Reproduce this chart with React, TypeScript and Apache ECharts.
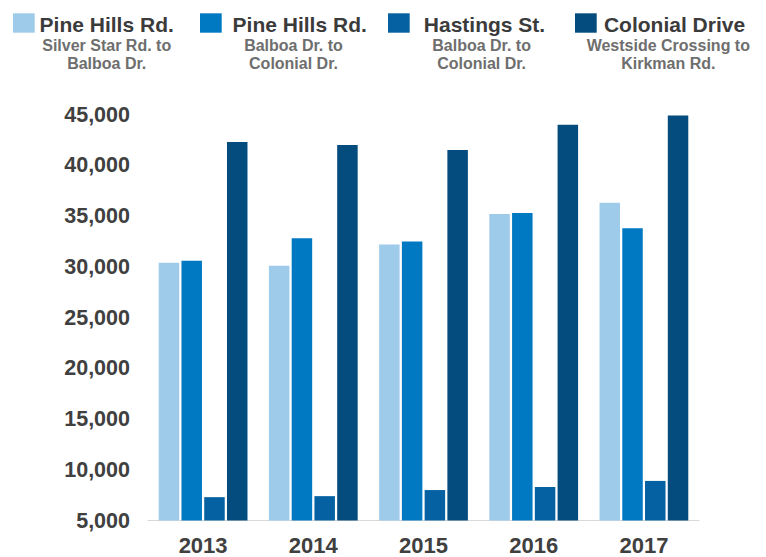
import React, { useEffect, useRef } from "react";
import * as echarts from "echarts";

const years = ["2013", "2014", "2015", "2016", "2017"];
const seriesTitles = ["Pine Hills Rd.", "Pine Hills Rd.", "Hastings St.", "Colonial Drive"];
const seriesSubtitles = [
  ["Silver Star Rd. to", "Balboa Dr."],
  ["Balboa Dr. to", "Colonial Dr."],
  ["Balboa Dr. to", "Colonial Dr."],
  ["Westside Crossing to", "Kirkman Rd."],
];
const pineHillsSilverStar = [30400, 30100, 32200, 35200, 36300];
const pineHillsBalboa = [30600, 32800, 32500, 35300, 33800];
const hastings = [7300, 7400, 8000, 8300, 8900];
const colonialDrive = [42300, 42000, 41500, 44000, 44900];
const yMin = 5000;
const yMax = 45000;
const yStep = 5000;

const colors = ["#9FCBEB", "#0079C2", "#0561A1", "#044B7E"];

// legend layout (pixels)
const legendIconX = [13, 200, 388, 575];
const legendTitleCX = [106.7, 299.7, 484.5, 674.5];
const legendSubCX = [106.7, 293.5, 481.6, 668.3];

export default function App() {
  const ref = useRef<HTMLDivElement>(null);
  useEffect(() => {
    document.body.style.margin = "0";
    if (!ref.current) return;
    const chart = echarts.init(ref.current, null, { renderer: "svg" });
    const font = "'Liberation Sans', Arial, sans-serif";
    const values = [pineHillsSilverStar, pineHillsBalboa, hastings, colonialDrive];

    const graphics: any[] = [];
    seriesTitles.forEach((t, i) => {
      graphics.push({
        type: "rect",
        shape: { x: legendIconX[i], y: 13.3, width: 21.7, height: 19.4 },
        style: { fill: colors[i] },
      });
      graphics.push({
        type: "text",
        x: legendTitleCX[i],
        y: 24.2,
        style: {
          text: t,
          fill: "#3b3b3b",
          font: `bold 21px ${font}`,
          align: "center",
          verticalAlign: "middle",
        },
      });
      seriesSubtitles[i].forEach((s, j) => {
        graphics.push({
          type: "text",
          x: legendSubCX[i],
          y: 45 + j * 18.6,
          style: {
            text: s,
            fill: "#6e6e6e",
            font: `bold 16px ${font}`,
            align: "center",
            verticalAlign: "middle",
          },
        });
      });
    });

    chart.setOption({
      animation: false,
      backgroundColor: "#ffffff",
      grid: { left: 148, right: 67, top: 114.5, bottom: 36.5, containLabel: false },
      xAxis: {
        type: "category",
        data: years,
        axisLine: { show: true, lineStyle: { color: "#d9d9d9", width: 1 } },
        axisTick: { show: false },
        axisLabel: {
          color: "#404040",
          fontFamily: font,
          fontWeight: "bold",
          fontSize: 22,
          margin: 14,
        },
      },
      yAxis: {
        type: "value",
        min: yMin,
        max: yMax,
        interval: yStep,
        splitLine: { show: false },
        axisLine: { show: false },
        axisTick: { show: false },
        axisLabel: {
          color: "#404040",
          fontFamily: font,
          fontWeight: "bold",
          fontSize: 21.5,
          margin: 18,
          formatter: (v: number) => v.toLocaleString("en-US"),
        },
      },
      series: values.map((d, i) => ({
        name: seriesTitles[i] + " " + i,
        type: "bar",
        data: d,
        barWidth: 20.5,
        barGap: "11%",
        itemStyle: { color: colors[i] },
      })),
      graphic: graphics,
    });
    return () => chart.dispose();
  }, []);
  return <div ref={ref} style={{ width: 766, height: 557 }} />;
}
